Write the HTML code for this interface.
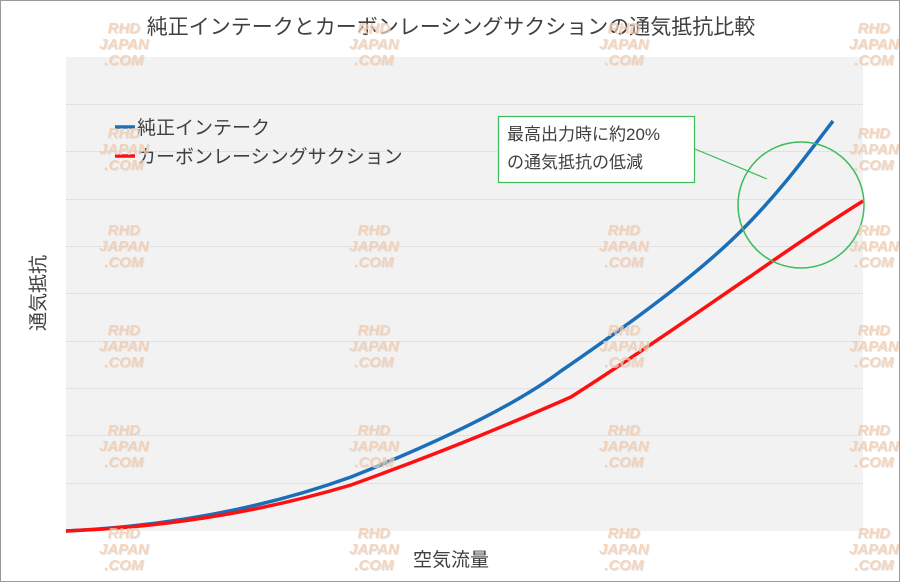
<!DOCTYPE html>
<html><head><meta charset="utf-8"><style>
body{margin:0;background:#fff}
.wrap{position:relative;width:898px;height:580px;border:1px solid #9a9a9a;overflow:hidden;font-family:"Liberation Sans","Noto Sans CJK JP",sans-serif}
.wm{position:absolute;font:italic bold 15px "Liberation Sans",sans-serif;color:#f3c7a6;text-align:center;line-height:16px;opacity:.75;text-shadow:1px 1px 0 #ddd}
</style></head><body><div class="wrap">
<svg width="898" height="580" style="position:absolute;left:0;top:0">
<rect x="65" y="56" width="797" height="474" fill="#f2f2f2"/>
<g stroke="#dcdcdc" stroke-width="1" stroke-dasharray="3,1">
<line x1="65" x2="862" y1="103.5" y2="103.5"/><line x1="65" x2="862" y1="150.5" y2="150.5"/>
<line x1="65" x2="862" y1="198.5" y2="198.5"/><line x1="65" x2="862" y1="245.5" y2="245.5"/>
<line x1="65" x2="862" y1="292.5" y2="292.5"/><line x1="65" x2="862" y1="340.5" y2="340.5"/>
<line x1="65" x2="862" y1="387.5" y2="387.5"/><line x1="65" x2="862" y1="434.5" y2="434.5"/>
<line x1="65" x2="862" y1="482.5" y2="482.5"/>
</g>
<path d="M65,530 C150,526 250,512 350,476 C450,436 520,400 560,370 C640,315 700,270 740,230 C780,190 805,155 832,120" fill="none" stroke="#1a6fb8" stroke-width="3.5"/>
<path d="M65,530 C150,527 250,514 350,484 C450,448 520,418 570,396 C650,345 720,295 750,275 C800,240 830,220 862,200" fill="none" stroke="#ff1010" stroke-width="3.5"/>
<circle cx="800" cy="204" r="63" fill="none" stroke="#3cbc5a" stroke-width="1.5"/>
<line x1="694" y1="148" x2="766" y2="178" stroke="#3cbc5a" stroke-width="1.2"/>
<rect x="497.5" y="115.5" width="196" height="66" fill="#fff" stroke="#3cbc5a" stroke-width="1.2"/>
<line x1="114" x2="134" y1="126" y2="126" stroke="#1a6fb8" stroke-width="3.5"/>
<line x1="114" x2="134" y1="155" y2="155" stroke="#ff1010" stroke-width="3.5"/>
</svg>
<div style="position:absolute;left:0;width:900px;top:10px;text-align:center;font-size:21px;color:#404040">純正インテークとカーボンレーシングサクションの通気抵抗比較</div>
<div style="position:absolute;left:136px;top:113px;font-size:19px;color:#404040;line-height:29px">純正インテーク<br>カーボンレーシングサクション</div>
<div style="position:absolute;left:506px;top:120px;font-size:17px;color:#404040;line-height:28px">最高出力時に約20%<br>の通気抵抗の低減</div>
<div style="position:absolute;left:0;width:900px;top:544px;text-align:center;font-size:19px;color:#404040">空気流量</div>
<div style="position:absolute;left:36px;top:292px;font-size:19px;color:#404040;transform:translate(-50%,-50%) rotate(-90deg);white-space:nowrap">通気抵抗</div>
<div class="wm" style="left:98px;top:20px">RHD<br>JAPAN<br>.COM</div>
<div class="wm" style="left:348px;top:20px">RHD<br>JAPAN<br>.COM</div>
<div class="wm" style="left:598px;top:20px">RHD<br>JAPAN<br>.COM</div>
<div class="wm" style="left:848px;top:20px">RHD<br>JAPAN<br>.COM</div>
<div class="wm" style="left:98px;top:125px">RHD<br>JAPAN<br>.COM</div>
<div class="wm" style="left:848px;top:125px">RHD<br>JAPAN<br>.COM</div>
<div class="wm" style="left:98px;top:222px">RHD<br>JAPAN<br>.COM</div>
<div class="wm" style="left:348px;top:222px">RHD<br>JAPAN<br>.COM</div>
<div class="wm" style="left:598px;top:222px">RHD<br>JAPAN<br>.COM</div>
<div class="wm" style="left:848px;top:222px">RHD<br>JAPAN<br>.COM</div>
<div class="wm" style="left:98px;top:322px">RHD<br>JAPAN<br>.COM</div>
<div class="wm" style="left:348px;top:322px">RHD<br>JAPAN<br>.COM</div>
<div class="wm" style="left:598px;top:322px">RHD<br>JAPAN<br>.COM</div>
<div class="wm" style="left:848px;top:322px">RHD<br>JAPAN<br>.COM</div>
<div class="wm" style="left:98px;top:422px">RHD<br>JAPAN<br>.COM</div>
<div class="wm" style="left:348px;top:422px">RHD<br>JAPAN<br>.COM</div>
<div class="wm" style="left:598px;top:422px">RHD<br>JAPAN<br>.COM</div>
<div class="wm" style="left:848px;top:422px">RHD<br>JAPAN<br>.COM</div>
<div class="wm" style="left:98px;top:525px">RHD<br>JAPAN<br>.COM</div>
<div class="wm" style="left:348px;top:525px">RHD<br>JAPAN<br>.COM</div>
<div class="wm" style="left:598px;top:525px">RHD<br>JAPAN<br>.COM</div>
<div class="wm" style="left:848px;top:525px">RHD<br>JAPAN<br>.COM</div>
</div></body></html>
